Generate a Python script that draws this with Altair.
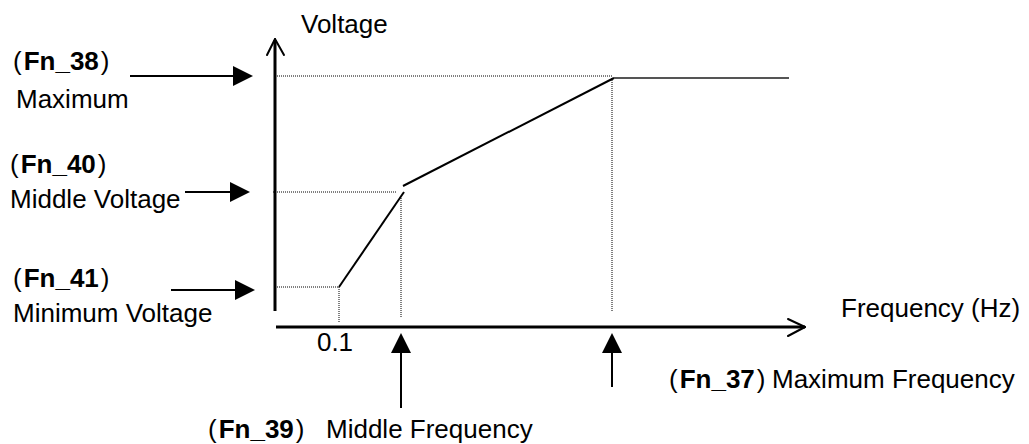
import altair as alt
import pandas as pd

# ---------------- diagram data (image-space coordinates: x right, y down) ----------------
# V/F characteristic curve segments
curve_x1 = [339, 403, 614]
curve_y1 = [287, 186, 78]
curve_x2 = [404, 614, 789]
curve_y2 = [192, 78, 78]
curve_color = ["#000000", "#000000", "#555555"]

# dotted guide lines
guide_x1 = [277, 339, 273, 401, 277, 612]
guide_y1 = [287, 287, 192, 198, 76, 78]
guide_x2 = [339, 339, 396, 401, 612, 612]
guide_y2 = [287, 322, 192, 318, 76, 312]

# axes (main lines)
axis_x1 = [275, 276]
axis_y1 = [311, 327]
axis_x2 = [275, 805]
axis_y2 = [40, 327]

# open chevron arrowheads of the axes
chev_x1 = [275, 275, 805, 805]
chev_y1 = [39, 39, 327, 327]
chev_x2 = [267, 284, 788, 788]
chev_y2 = [55, 55, 319, 336]

# horizontal pointer arrows (Fn_38, Fn_40, Fn_41)
harrow_tail = [130, 185, 171]
harrow_tip = [253, 250, 255]
harrow_y = [76, 192, 290]

# vertical pointer arrows (Fn_39, Fn_37)
varrow_x = [401, 612]
varrow_tail = [408, 387]
varrow_tip = [333, 333]

# plain labels
label_text = ["Voltage", "Maximum", "Middle Voltage", "Minimum Voltage",
              "Frequency (Hz)", "Middle Frequency", "Maximum Frequency"]
label_x = [301, 16, 10, 13, 841, 326, 772]
label_y = [33, 108, 208, 322, 317, 438, 388]

tick_text = ["0.1"]
tick_x = [335]
tick_y = [351]

# parameter codes shown as "(Fn_xx)" with bold code
code_text = ["Fn_38", "Fn_40", "Fn_41", "Fn_39", "Fn_37"]
code_x = [13, 10, 13, 208, 669]
code_y = [70, 173, 287, 438, 388]

# ---------------- chart ----------------
W, H = 1013, 436
FONT = "Liberation Sans"
FS = 26
XS = alt.Scale(domain=[8, 8 + W], nice=False, zero=False)
YS = alt.Scale(domain=[8, 8 + H], nice=False, zero=False, reverse=True)


def xq(f):
    return alt.X(f, type="quantitative", scale=XS, axis=None)


def yq(f):
    return alt.Y(f, type="quantitative", scale=YS, axis=None)


def segs(x1, y1, x2, y2, **extra):
    d = {"x1": x1, "y1": y1, "x2": x2, "y2": y2}
    d.update(extra)
    return pd.DataFrame(d)


guides = alt.Chart(segs(guide_x1, guide_y1, guide_x2, guide_y2)).mark_rule(
    color="#000000", strokeWidth=1, strokeDash=[1, 1]
).encode(x=xq("x1"), y=yq("y1"), x2="x2", y2="y2")

curve = alt.Chart(segs(curve_x1, curve_y1, curve_x2, curve_y2, c=curve_color)).mark_rule(
    strokeWidth=2
).encode(x=xq("x1"), y=yq("y1"), x2="x2", y2="y2",
         color=alt.Color("c:N", scale=None))

axes = alt.Chart(segs(axis_x1, axis_y1, axis_x2, axis_y2)).mark_rule(
    color="#000000", strokeWidth=3
).encode(x=xq("x1"), y=yq("y1"), x2="x2", y2="y2")

chev = alt.Chart(segs(chev_x1, chev_y1, chev_x2, chev_y2)).mark_rule(
    color="#000000", strokeWidth=2, strokeCap="round"
).encode(x=xq("x1"), y=yq("y1"), x2="x2", y2="y2")

HEAD = 18
hshaft = alt.Chart(pd.DataFrame({
    "x1": harrow_tail, "x2": [t - HEAD for t in harrow_tip], "y": harrow_y
})).mark_rule(color="#000000", strokeWidth=2).encode(x=xq("x1"), x2="x2", y=yq("y"))

hhead = alt.Chart(pd.DataFrame({"x": harrow_tip, "y": harrow_y})).mark_point(
    shape="M0,0L-2,-1L-2,1Z", size=400, filled=True, color="#000000", opacity=1
).encode(x=xq("x"), y=yq("y"))

vshaft = alt.Chart(pd.DataFrame({
    "x": varrow_x, "y1": varrow_tail, "y2": [t + HEAD for t in varrow_tip]
})).mark_rule(color="#000000", strokeWidth=2).encode(x=xq("x"), y=yq("y1"), y2="y2")

vhead = alt.Chart(pd.DataFrame({"x": varrow_x, "y": varrow_tip})).mark_point(
    shape="M0,0L-1,2L1,2Z", size=400, filled=True, color="#000000", opacity=1
).encode(x=xq("x"), y=yq("y"))

labels = alt.Chart(pd.DataFrame({"t": label_text, "x": label_x, "y": label_y})).mark_text(
    align="left", baseline="alphabetic", font=FONT, fontSize=FS, color="#000000"
).encode(x=xq("x"), y=yq("y"), text="t:N")

ticks = alt.Chart(pd.DataFrame({"t": tick_text, "x": tick_x, "y": tick_y})).mark_text(
    align="center", baseline="alphabetic", font=FONT, fontSize=FS, color="#000000"
).encode(x=xq("x"), y=yq("y"), text="t:N")

# "(" + bold code + ")"
P_W = 0.333 * FS + 2
B_W = 2.89 * FS + 2
open_p = alt.Chart(pd.DataFrame({"x": code_x, "y": code_y, "t": ["("] * len(code_x)})).mark_text(
    align="left", baseline="alphabetic", font=FONT, fontSize=FS, color="#000000"
).encode(x=xq("x"), y=yq("y"), text="t:N")
bold_c = alt.Chart(pd.DataFrame({"x": [v + P_W for v in code_x], "y": code_y, "t": code_text})).mark_text(
    align="left", baseline="alphabetic", font=FONT, fontSize=FS, fontWeight="bold", color="#000000"
).encode(x=xq("x"), y=yq("y"), text="t:N")
close_p = alt.Chart(pd.DataFrame({"x": [v + P_W + B_W for v in code_x], "y": code_y,
                                  "t": [")"] * len(code_x)})).mark_text(
    align="left", baseline="alphabetic", font=FONT, fontSize=FS, color="#000000"
).encode(x=xq("x"), y=yq("y"), text="t:N")

chart = alt.layer(
    guides, curve, axes, chev, labels, ticks, open_p, bold_c, close_p,
    hshaft, hhead, vshaft, vhead
).properties(
    width=W, height=H, padding=0, autosize=alt.AutoSizeParams(type="none"),
    background="#ffffff"
).configure_view(stroke=None)

chart.save("out.html", embed_options={"renderer": "svg", "actions": False})
